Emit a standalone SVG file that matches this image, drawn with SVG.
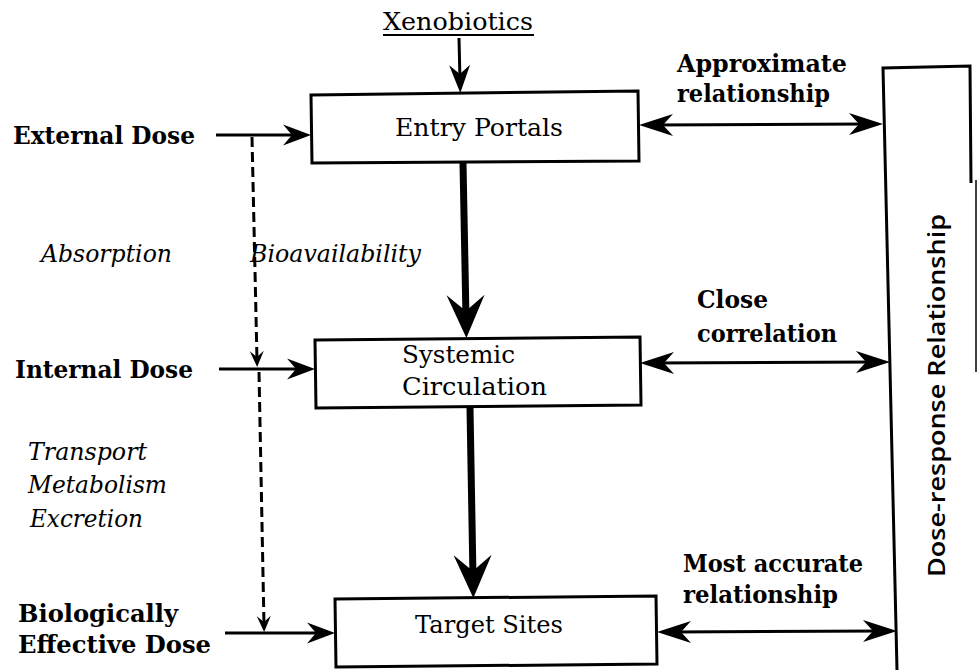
<svg xmlns="http://www.w3.org/2000/svg" width="978" height="670" viewBox="0 0 978 670">
<style>
  .t { font-family: "DejaVu Serif", "Liberation Serif", serif; font-size: 25px; fill: #000; }
  .b { font-weight: bold; font-size: 23.5px; }
  .i { font-style: italic; font-size: 24px; }
  .s { font-family: "Open Sans", "DejaVu Sans", sans-serif; font-size: 24px; font-weight: 600; fill: #000; }
  .box { fill: #fff; stroke: #000; stroke-width: 3; stroke-linejoin: miter; }
  .thin { fill: none; stroke: #000; stroke-width: 3; }
  .thick { fill: none; stroke: #000; stroke-width: 7; }
  .dash { fill: none; stroke: #000; stroke-width: 3; stroke-dasharray: 10 5; }
</style>
<defs>
  <marker id="ah" viewBox="-30 -11 32 22" markerWidth="32" markerHeight="22" refX="-12" refY="0" orient="auto" markerUnits="userSpaceOnUse">
    <path d="M0,0 L-28,-10.5 L-19,0 L-28,10.5 Z" fill="#000"/>
  </marker>
  <marker id="big" viewBox="-46 -22 48 44" markerWidth="48" markerHeight="44" refX="-20" refY="0" orient="auto" markerUnits="userSpaceOnUse">
    <path d="M0,0 L-43,-19 L-27,0 L-43,19 Z" fill="#000"/>
  </marker>
  <marker id="dh" viewBox="-18 -8 20 16" markerWidth="20" markerHeight="16" refX="-7" refY="0" orient="auto" markerUnits="userSpaceOnUse">
    <path d="M0,0 L-16,-7 L-10,0 L-16,7 Z" fill="#000"/>
  </marker>
  <marker id="dbl" viewBox="-36 -12 38 24" markerWidth="38" markerHeight="24" refX="-15" refY="0" orient="auto-start-reverse" markerUnits="userSpaceOnUse">
    <path d="M0,0 L-34,-11 L-24,0 L-34,11 Z" fill="#000"/>
  </marker>
</defs>
<rect x="0" y="0" width="978" height="670" fill="#fff"/>

<g id="connectors">
  <line class="thin" x1="459" y1="38" x2="460" y2="81" marker-end="url(#ah)"/>
  <line class="thin" x1="216" y1="135" x2="299" y2="135" marker-end="url(#ah)"/>
  <line class="thin" x1="219" y1="369" x2="303" y2="369" marker-end="url(#ah)"/>
  <line class="thin" x1="225" y1="633" x2="323" y2="633" marker-end="url(#ah)"/>
  <line class="dash" x1="252" y1="137" x2="257" y2="360" marker-end="url(#dh)"/>
  <line class="dash" x1="259" y1="372" x2="264" y2="625" marker-end="url(#dh)"/>
  <line class="thick" x1="463" y1="163" x2="466" y2="318" marker-end="url(#big)"/>
  <line class="thick" x1="470" y1="408" x2="473" y2="578" marker-end="url(#big)"/>
  <line class="thin" x1="654" y1="125" x2="868" y2="124" marker-start="url(#dbl)" marker-end="url(#dbl)"/>
  <line class="thin" x1="655" y1="363" x2="875" y2="362" marker-start="url(#dbl)" marker-end="url(#dbl)"/>
  <line class="thin" x1="672" y1="632" x2="882" y2="631" marker-start="url(#dbl)" marker-end="url(#dbl)"/>
</g>

<g id="xenobiotics">
  <text class="t" x="383" y="30" textLength="150" lengthAdjust="spacingAndGlyphs">Xenobiotics</text>
  <line x1="383" y1="35" x2="534" y2="35" stroke="#000" stroke-width="2"/>
</g>

<g id="entry-portals">
  <polygon class="box" points="311,95 638,91 639,161 312,163"/>
  <text class="t" x="395" y="136" textLength="168" lengthAdjust="spacingAndGlyphs">Entry Portals</text>
</g>

<g id="systemic-circulation">
  <polygon class="box" points="315,340 640,337 641,405 316,408"/>
  <text class="t" x="402" y="363" textLength="113" lengthAdjust="spacingAndGlyphs">Systemic</text>
  <text class="t" x="402" y="395" textLength="145" lengthAdjust="spacingAndGlyphs">Circulation</text>
</g>

<g id="target-sites">
  <polygon class="box" points="335,599 656,596 657,664 336,667"/>
  <text class="t" x="415" y="633" textLength="148" lengthAdjust="spacingAndGlyphs">Target Sites</text>
</g>

<g id="dose-response">
  <path d="M897,670 L883,68 L970,66 L971,183" fill="none" stroke="#000" stroke-width="3"/>
  <line x1="976" y1="180" x2="976" y2="372" stroke="#000" stroke-width="1.5"/>
  <text class="s" transform="translate(945,577) rotate(-90)" x="0" y="0" textLength="363" lengthAdjust="spacingAndGlyphs">Dose-response Relationship</text>
</g>

<g id="external-dose">
  <text class="t b" x="13" y="144" textLength="182" lengthAdjust="spacingAndGlyphs">External Dose</text>
</g>
<g id="internal-dose">
  <text class="t b" x="15" y="378" textLength="178" lengthAdjust="spacingAndGlyphs">Internal Dose</text>
</g>
<g id="biologically-effective-dose">
  <text class="t b" x="18" y="622" textLength="160" lengthAdjust="spacingAndGlyphs">Biologically</text>
  <text class="t b" x="18" y="653" textLength="193" lengthAdjust="spacingAndGlyphs">Effective Dose</text>
</g>

<g id="process-labels">
  <text class="t i" x="41" y="262" textLength="131" lengthAdjust="spacingAndGlyphs">Absorption</text>
  <text class="t i" x="250" y="262" textLength="171" lengthAdjust="spacingAndGlyphs">Bioavailability</text>
  <text class="t i" x="28" y="460" textLength="119" lengthAdjust="spacingAndGlyphs">Transport</text>
  <text class="t i" x="28" y="493" textLength="139" lengthAdjust="spacingAndGlyphs">Metabolism</text>
  <text class="t i" x="30" y="527" textLength="113" lengthAdjust="spacingAndGlyphs">Excretion</text>
</g>

<g id="relationship-labels">
  <text class="t b" x="677" y="72" textLength="170" lengthAdjust="spacingAndGlyphs">Approximate</text>
  <text class="t b" x="677" y="102" textLength="153" lengthAdjust="spacingAndGlyphs">relationship</text>
  <text class="t b" x="697" y="308" textLength="71" lengthAdjust="spacingAndGlyphs">Close</text>
  <text class="t b" x="697" y="342" textLength="140" lengthAdjust="spacingAndGlyphs">correlation</text>
  <text class="t b" x="683" y="572" textLength="180" lengthAdjust="spacingAndGlyphs">Most accurate</text>
  <text class="t b" x="683" y="603" textLength="155" lengthAdjust="spacingAndGlyphs">relationship</text>
</g>
</svg>
